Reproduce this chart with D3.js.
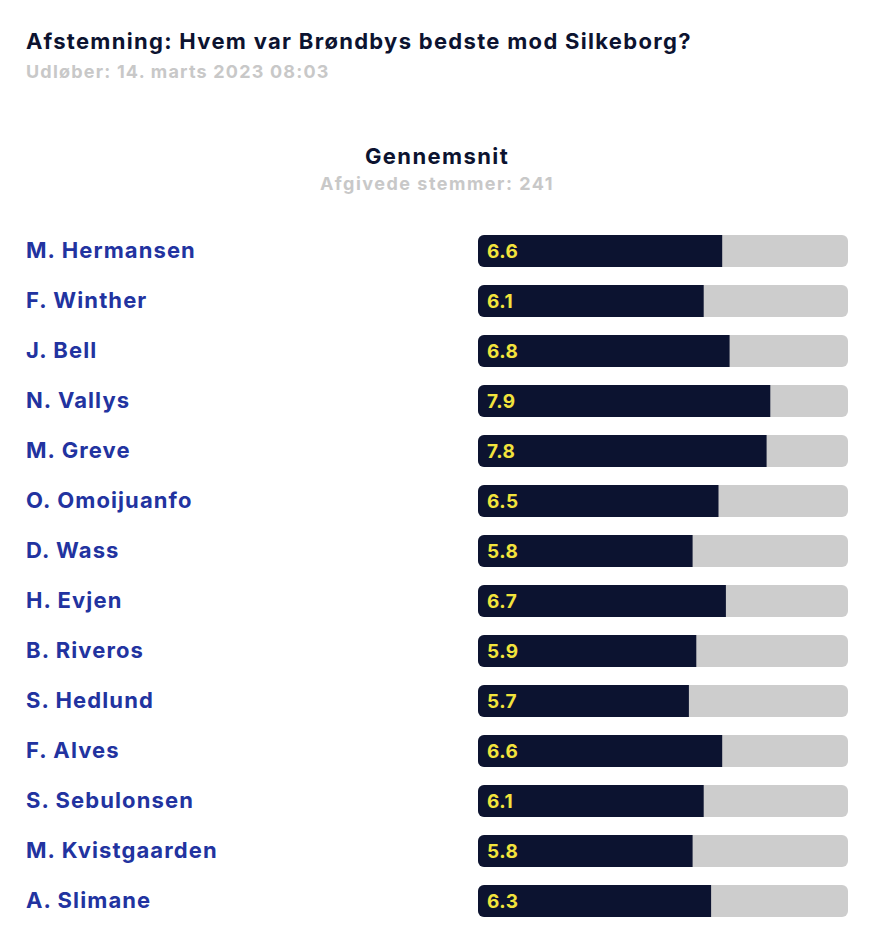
<!DOCTYPE html>
<html lang="da">
<head>
  <meta charset="UTF-8">
  <title>Afstemning</title>
  <script src="https://d3js.org/d3.v7.min.js"></script>
  <style>
    body { margin: 0; background: #fff; font-family: Inter, "Noto Sans", sans-serif; }
    svg { display: block; }
  </style>
</head>
<body>
<svg id="chart" width="876" height="950"></svg>
<script>
  const players = ["M. Hermansen", "F. Winther", "J. Bell", "N. Vallys", "M. Greve", "O. Omoijuanfo",
    "D. Wass", "H. Evjen", "B. Riveros", "S. Hedlund", "F. Alves", "S. Sebulonsen",
    "M. Kvistgaarden", "A. Slimane"];
  const ratings = [6.6, 6.1, 6.8, 7.9, 7.8, 6.5, 5.8, 6.7, 5.9, 5.7, 6.6, 6.1, 5.8, 6.3];
  const maxRating = 10;

  const svg = d3.select("#chart");
  const navy = "#0c1330";

  // header
  svg.append("text").attr("x", 26).attr("y", 49)
    .attr("font-size", 22).attr("font-weight", 700).attr("fill", navy)
    .attr("letter-spacing", 1.3)
    .text("Afstemning: Hvem var Brøndbys bedste mod Silkeborg?");
  svg.append("text").attr("x", 26).attr("y", 78)
    .attr("font-size", 18).attr("font-weight", 700).attr("fill", "#c8c8c8")
    .attr("letter-spacing", 1.2)
    .text("Udløber: 14. marts 2023 08:03");
  svg.append("text").attr("x", 437).attr("y", 164).attr("text-anchor", "middle")
    .attr("font-size", 22).attr("font-weight", 700).attr("fill", navy)
    .attr("letter-spacing", 1.4)
    .text("Gennemsnit");
  svg.append("text").attr("x", 437).attr("y", 190).attr("text-anchor", "middle")
    .attr("font-size", 18).attr("font-weight", 700).attr("fill", "#c8c8c8")
    .attr("letter-spacing", 1.5)
    .text("Afgivede stemmer: " + 241);

  const y = d3.scaleBand().domain(players).range([235, 917]).paddingInner(0.36).paddingOuter(0);
  const x = d3.scaleLinear().domain([0, maxRating]).range([478, 848]);
  const h = y.bandwidth();
  const r = 6;

  const rows = svg.selectAll(".row").data(players).enter().append("g")
    .attr("class", "row")
    .attr("transform", d => `translate(0,${y(d)})`);

  rows.append("text").attr("x", 26).attr("y", h / 2 + 7)
    .attr("font-size", 22).attr("font-weight", 700).attr("fill", "#2233a0")
    .attr("letter-spacing", 1.1)
    .text(d => d);

  rows.append("rect")
    .attr("x", x(0)).attr("width", x(maxRating) - x(0))
    .attr("height", h).attr("rx", r).attr("fill", "#cdcdcd");

  // filled bar: rounded on the left, square on the right
  rows.append("path")
    .attr("fill", navy)
    .attr("d", (d, i) => {
      const x0 = x(0), x1 = x(ratings[i]);
      return `M${x0 + r},0H${x1}V${h}H${x0 + r}A${r},${r} 0 0 1 ${x0},${h - r}V${r}A${r},${r} 0 0 1 ${x0 + r},0Z`;
    });

  rows.append("text").attr("x", x(0) + 9).attr("y", h / 2 + 7)
    .attr("font-size", 19).attr("font-weight", 700).attr("fill", "#f2e43c")
    .attr("letter-spacing", 0.5)
    .text((d, i) => ratings[i].toFixed(1));
</script>
</body>
</html>
